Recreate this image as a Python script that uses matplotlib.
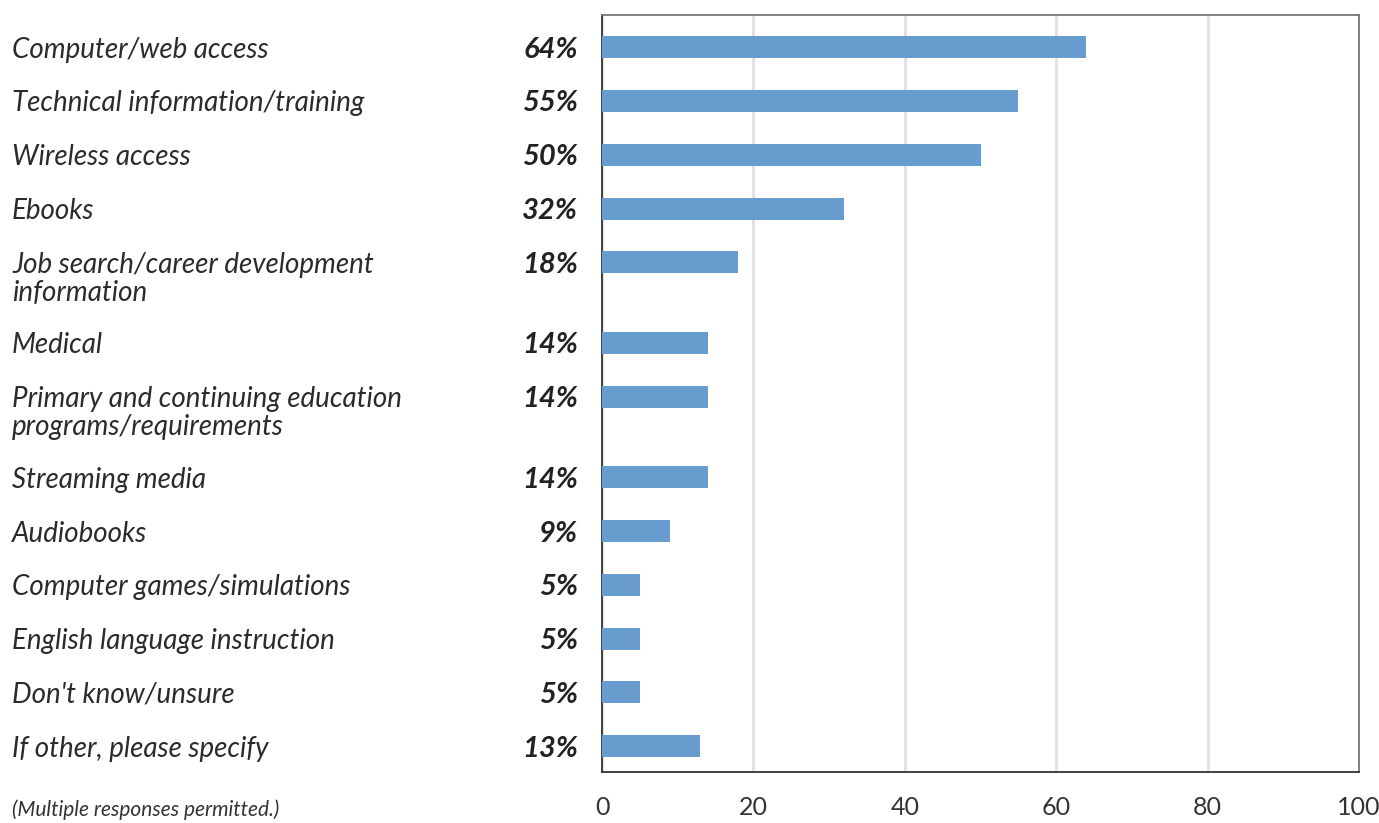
import matplotlib.pyplot as plt
from matplotlib import transforms
import numpy as np

# Antwoorden en percentages
categories = [
    'Computer/web access',
    'Technical information/training',
    'Wireless access',
    'Ebooks',
    'Job search/career development\ninformation',
    'Medical',
    'Primary and continuing education\nprograms/requirements',
    'Streaming media',
    'Audiobooks',
    'Computer games/simulations',
    'English language instruction',
    "Don't know/unsure",
    'If other, please specify',
]
values = [64, 55, 50, 32, 18, 14, 14, 14, 9, 5, 5, 5, 13]
xticks = [0, 20, 40, 60, 80, 100]
footnote = '(Multiple responses permitted.)'

plt.rcParams['font.family'] = ['Lato', 'DejaVu Sans']

# Rijen met twee regels krijgen extra ruimte
steps = [1 + 0.5 * c.count('\n') for c in categories]
ypos = np.concatenate([[0], np.cumsum(steps[:-1])])

fig = plt.figure(figsize=(13.79, 8.23), dpi=100)
ax = fig.add_axes([602 / 1379, 1 - 772 / 823, 757 / 1379, 757 / 823])

ax.barh(ypos, values, height=0.41, color='#699cce', zorder=3)

ax.set_xlim(0, 100)
ax.set_ylim(ypos[-1] + 0.48, -0.6)
ax.set_xticks(xticks)
ax.set_yticks([])
ax.tick_params(axis='x', length=0, pad=17, labelsize=18, labelcolor='#333333')
ax.grid(axis='x', color='#e2e2e4', linewidth=2.2, zorder=0)

for side in ['left', 'bottom']:
    ax.spines[side].set_color('#333333')
    ax.spines[side].set_linewidth(1.3)
for side in ['top', 'right']:
    ax.spines[side].set_color('#777777')
    ax.spines[side].set_linewidth(1.3)

# Labels links in figuurcoordinaten, verticaal in data
trans = transforms.blended_transform_factory(fig.transFigure, ax.transData)

for y, cat, v in zip(ypos, categories, values):
    # elke regel apart, eerste regel op hoogte van de balk
    for i, line in enumerate(cat.split('\n')):
        tr = transforms.offset_copy(trans, fig=fig, x=0, y=-7.5 - 20 * i, units='points')
        ax.text(12 / 1379, y, line, transform=tr, ha='left', va='baseline',
                fontsize=20, fontstyle='italic', color='#2b2b2b')
    tr = transforms.offset_copy(trans, fig=fig, x=0, y=-7.5, units='points')
    ax.text(578 / 1379, y, f'{v}%', transform=tr, ha='right', va='baseline',
            fontsize=21, fontstyle='italic', fontweight='bold', color='#222222')

fig.text(12 / 1379, 1 - 816 / 823, footnote, ha='left', va='baseline',
         fontsize=15, fontstyle='italic', color='#333333')

fig.savefig('out.png', dpi=100)
